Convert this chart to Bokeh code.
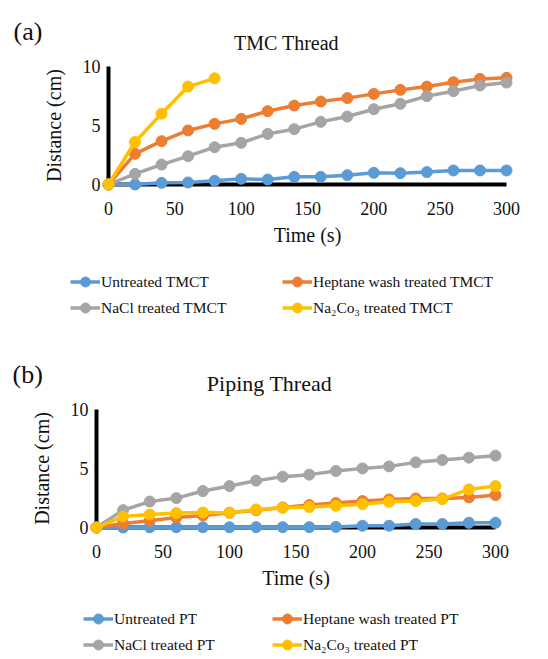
from bokeh.plotting import figure
from bokeh.models import Range1d, FixedTicker, Label, Legend, LegendItem
from bokeh.layouts import column
from bokeh.embed import file_html
from bokeh.resources import INLINE

# ---------------- data ----------------
time_s = [0, 20, 40, 60, 80, 100, 120, 140, 160, 180, 200, 220, 240, 260, 280, 300]
time_na2co3_a = [0, 20, 40, 60, 80]

a_untreated = [0, 0, 0.14, 0.17, 0.31, 0.48, 0.42, 0.65, 0.65, 0.79, 0.99, 0.96, 1.05, 1.19, 1.19, 1.19]
a_heptane = [0, 2.6, 3.67, 4.58, 5.14, 5.56, 6.21, 6.69, 7.03, 7.32, 7.68, 8.02, 8.3, 8.67, 8.95, 9.04]
a_nacl = [0, 0.9, 1.69, 2.4, 3.16, 3.53, 4.29, 4.69, 5.31, 5.76, 6.38, 6.84, 7.49, 7.91, 8.39, 8.64]
a_na2co3 = [0, 3.6, 6.0, 8.3, 9.0]

b_untreated = [0, 0, 0.02, 0.02, 0.02, 0.02, 0.03, 0.03, 0.03, 0.05, 0.15, 0.15, 0.3, 0.3, 0.4, 0.4]
b_heptane = [0, 0.34, 0.57, 0.85, 1.02, 1.25, 1.47, 1.7, 1.9, 2.07, 2.24, 2.38, 2.46, 2.46, 2.55, 2.75]
b_nacl = [0, 1.47, 2.2, 2.49, 3.09, 3.51, 3.97, 4.31, 4.48, 4.79, 5.01, 5.18, 5.52, 5.72, 5.92, 6.09]
b_na2co3 = [0, 0.93, 1.1, 1.22, 1.27, 1.25, 1.53, 1.67, 1.73, 1.84, 1.98, 2.18, 2.24, 2.41, 3.23, 3.51]

x_ticks = [0, 50, 100, 150, 200, 250, 300]
y_ticks = [0, 5, 10]

labels_a = ["Untreated TMCT", "Heptane wash treated TMCT", "NaCl treated TMCT", "Na\u2082Co\u2083 treated TMCT"]
labels_b = ["Untreated PT", "Heptane wash treated PT", "NaCl treated PT", "Na\u2082Co\u2083 treated PT"]

COLORS = ["#5B9BD5", "#ED7D31", "#A5A5A5", "#FFC000"]
FONT = "Liberation Serif"
TXT = "#111111"
W = 532
ORIGIN_X = 0  # page x where the figures start (observed)


def make_panel(tag, title, series, labels, top_abs, height, x0px, x300px, y0px, y10px,
               tag_px, title_px, title_size, leg_cols_px, leg_bottom_px):
    # frame covers the whole figure; compute data ranges from pixel targets (page coords)
    sx = (x300px - x0px) / 300.0
    sy = (y0px - y10px) / 10.0
    left_abs, right_abs = ORIGIN_X, ORIGIN_X + W
    bot_abs = top_abs + height
    xr = Range1d((left_abs - x0px) / sx, (right_abs - x0px) / sx)
    yr = Range1d((y0px - bot_abs) / sy, (y0px - top_abs) / sy)

    def dx(px):
        return (px - x0px) / sx

    def dy(py):
        return (y0px - py) / sy

    p = figure(width=W, height=height, output_backend="svg", toolbar_location=None,
               x_range=xr, y_range=yr, min_border=0, title=None)
    p.grid.visible = False
    p.outline_line_color = None
    p.background_fill_color = "white"
    p.border_fill_color = "white"

    for ax, ticks, bounds, lab in ((p.xaxis[0], x_ticks, (0, 300), "Time (s)"),
                                   (p.yaxis[0], y_ticks, (0, 10), "Distance (cm)")):
        ax.ticker = FixedTicker(ticks=ticks)
        ax.bounds = bounds
        ax.fixed_location = 0
        ax.level = "underlay"
        ax.axis_line_width = 4
        ax.axis_line_color = "black"
        ax.major_tick_line_color = None
        ax.minor_tick_line_color = None
        ax.major_tick_out = 0
        ax.major_tick_in = 0
        ax.major_label_text_font = FONT
        ax.major_label_text_font_size = "18px"
        ax.major_label_text_color = TXT
        ax.axis_label = lab
        ax.axis_label_text_font = FONT
        ax.axis_label_text_font_size = "20px"
        ax.axis_label_text_font_style = "normal"
        ax.axis_label_text_color = TXT
    p.xaxis[0].major_label_standoff = 17
    p.xaxis[0].axis_label_standoff = 6
    p.yaxis[0].major_label_standoff = 8
    p.yaxis[0].axis_label_standoff = 15

    items = []
    for (xs, ys), lab, col in zip(series, labels, COLORS):
        lr = p.line(xs, ys, line_color=col, line_width=3.5)
        sr = p.scatter(xs, ys, size=11, fill_color=col, line_color=col)
        items.append(LegendItem(label=lab, renderers=[lr, sr]))

    for its, cx in (([items[0], items[2]], leg_cols_px[0]), ([items[1], items[3]], leg_cols_px[1])):
        lg = Legend(items=its, location=(cx - left_abs, bot_abs - leg_bottom_px),
                    orientation="vertical",
                    label_text_font=FONT, label_text_font_size="15.5px",
                    label_text_color=TXT,
                    glyph_width=30, glyph_height=25, label_standoff=1,
                    spacing=1, padding=0, margin=0,
                    border_line_color=None, background_fill_alpha=0)
        p.add_layout(lg, "center")

    p.add_layout(Label(x=dx(tag_px[0]), y=dy(tag_px[1]), text=tag, text_font=FONT,
                       text_font_size="26px", text_baseline="middle", text_align="left",
                       text_color=TXT))
    p.add_layout(Label(x=dx(title_px[0]), y=dy(title_px[1]), text=title, text_font=FONT,
                       text_font_size=title_size, text_baseline="alphabetic",
                       text_align="center", text_color=TXT))
    return p


series_a = [(time_s, a_untreated), (time_s, a_heptane), (time_s, a_nacl), (time_na2co3_a, a_na2co3)]
series_b = [(time_s, b_untreated), (time_s, b_heptane), (time_s, b_nacl), (time_s, b_na2co3)]

pa = make_panel("(a)", "TMC Thread", series_a, labels_a, top_abs=0, height=330,
                x0px=108, x300px=506, y0px=184, y10px=66,
                tag_px=(13, 31), title_px=(286, 42), title_size="20px",
                leg_cols_px=(70, 282), leg_bottom_px=320)

pb = make_panel("(b)", "Piping Thread", series_b, labels_b, top_abs=330, height=327,
                x0px=96, x300px=495, y0px=527, y10px=409,
                tag_px=(12, 374), title_px=(269, 383), title_size="22px",
                leg_cols_px=(83, 272), leg_bottom_px=657)

layout = column(pa, pb, spacing=0)
open("out.html", "w").write(file_html(layout, INLINE))
